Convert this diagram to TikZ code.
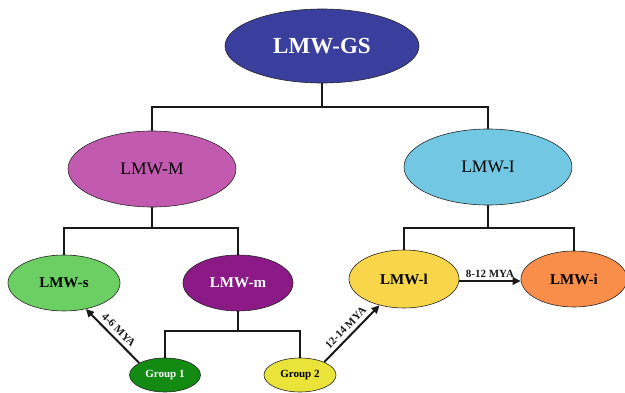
\documentclass[tikz,border=0pt]{standalone}
\usepackage{fontspec}
\setmainfont{Liberation Serif}
\usetikzlibrary{shapes.geometric,arrows.meta}
\definecolor{cGS}{RGB}{58,63,158}
\definecolor{cM}{RGB}{194,91,176}
\definecolor{cI}{RGB}{114,200,226}
\definecolor{cs}{RGB}{108,207,99}
\definecolor{cm}{RGB}{139,26,135}
\definecolor{cl}{RGB}{249,213,74}
\definecolor{ci}{RGB}{249,142,74}
\definecolor{cg1}{RGB}{19,138,18}
\definecolor{cg2}{RGB}{234,228,58}
\tikzset{
  oval/.style={ellipse, draw=black!85, line width=0.6pt, inner sep=0pt},
  conn/.style={line width=2.5pt, draw=black!90},
  arr/.style={line width=2pt, draw=black!90, -{Triangle[length=8pt,width=7.5pt]}},
  mya/.style={font=\fontsize{11}{12}\selectfont\bfseries, inner sep=1pt, text=black!90},
}
\begin{document}
\begin{tikzpicture}[x=1pt,y=-1pt]
\useasboundingbox (0,0) rectangle (625,393);
\node[oval, fill=cGS, minimum width=194pt, minimum height=74pt, text=white,
      font=\fontsize{23}{25}\selectfont\bfseries] (gs) at (322,46) {LMW-GS};
\node[oval, fill=cM, minimum width=168pt, minimum height=76pt,
      font=\fontsize{17.5}{19}\selectfont] (M) at (152,169) {LMW-M};
\node[oval, fill=cI, minimum width=168pt, minimum height=76pt,
      font=\fontsize{17.5}{19}\selectfont] (I) at (488,167) {LMW-I};
\node[oval, fill=cs, minimum width=112pt, minimum height=56pt,
      font=\fontsize{15}{17}\selectfont\bfseries] (s) at (64,283) {LMW-s};
\node[oval, fill=cm, minimum width=110pt, minimum height=56pt, text=white,
      font=\fontsize{15}{17}\selectfont\bfseries] (m) at (238,283) {LMW-m};
\node[oval, fill=cl, minimum width=110pt, minimum height=58pt,
      font=\fontsize{15}{17}\selectfont\bfseries] (l) at (404,279) {LMW-l};
\node[oval, fill=ci, minimum width=106pt, minimum height=56pt,
      font=\fontsize{15}{17}\selectfont\bfseries] (i) at (574,279) {LMW-i};
\node[oval, fill=cg1, minimum width=71pt, minimum height=34pt, text=white,
      font=\fontsize{11}{13}\selectfont\bfseries] (g1) at (165,375) {Group 1};
\node[oval, fill=cg2, minimum width=72pt, minimum height=34pt,
      font=\fontsize{11}{13}\selectfont\bfseries] (g2) at (300,375) {Group 2};
\coordinate (b1) at (0,107);
\coordinate (b2) at (0,228);
\coordinate (b3) at (0,331);
% tree connectors
\draw[conn] (gs.south) -- (gs.south |- b1);
\draw[conn] (M.north) |- (gs.south |- b1) -| (I.north);
\draw[conn] (M.south) -- (M.south |- b2);
\draw[conn] (s.north) |- (M.south |- b2) -| (m.north);
\draw[conn] (I.south) -- (I.south |- b2);
\draw[conn] (l.north) |- (I.south |- b2) -| (i.north);
\draw[conn] (m.south) -- (m.south |- b3);
\draw[conn] (g1.north) |- (m.south |- b3) -| (g2.north);
% dated arrows
\draw[arr] (g1.155) -- node[mya, sloped, above=3pt] {4-6 MYA} (s.-50);
\draw[arr] (g2.28) -- node[mya, sloped, above=3pt] {12-14 MYA} (l.-133);
\draw[arr] ([yshift=-2pt]l.east) -- node[mya, above=1pt] {8-12 MYA} ([yshift=-2pt]i.west);
\end{tikzpicture}
\end{document}
